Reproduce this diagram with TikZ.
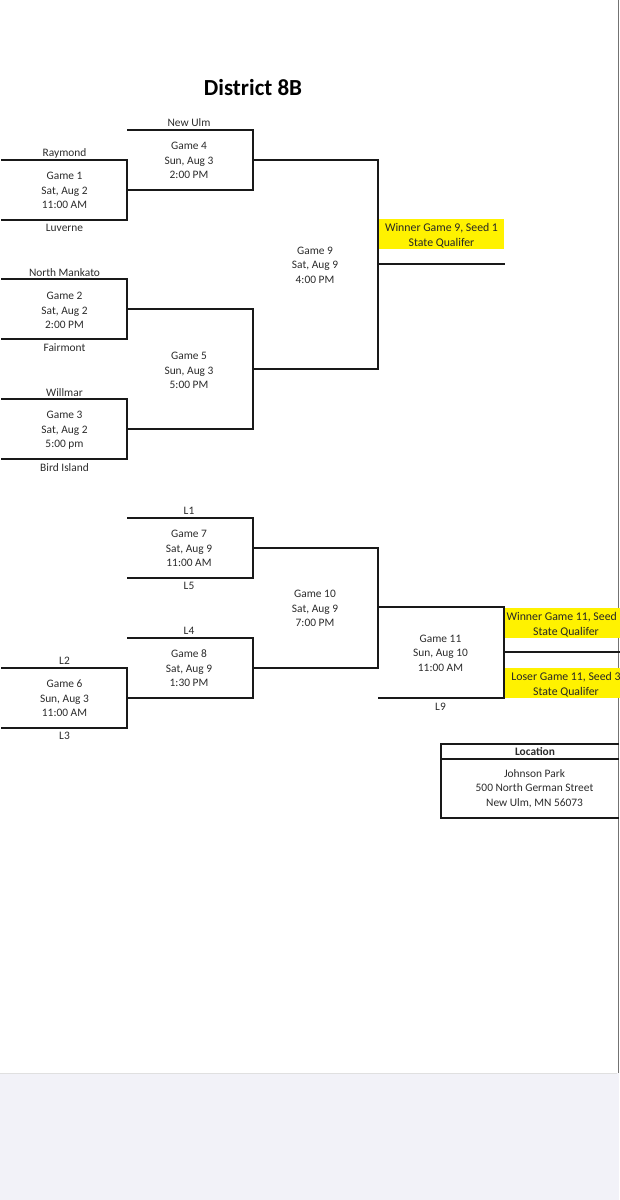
\documentclass[tikz,border=0pt]{standalone}
\usepackage{fontspec}
\setmainfont{Carlito}
\usepackage{tikz}
\usetikzlibrary{positioning}
\definecolor{pagegray}{HTML}{F2F2F8}
\definecolor{inkgray}{HTML}{2B2B2B}
\tikzset{
    bracket/.style={line width=2pt,line cap=rect,black!90},
    team/.style={font=\fontsize{11.4}{12}\selectfont,text=inkgray,inner sep=0pt},
    game/.style={font=\fontsize{11.4}{14.5}\selectfont,text=inkgray,align=center,inner sep=0pt},
    seed/.style={game,font=\fontsize{11.8}{14.8}\selectfont,fill=yellow,text=black!85,minimum height=30pt,text height=27pt}
}
\begin{document}
\begin{tikzpicture}[x=1pt,y=-1pt]
    \useasboundingbox (0,0) rectangle (619,1200);
    \fill[pagegray] (0,1073) rectangle (619,1200);
    \draw[black!12,line width=1pt] (0,1073) -- (617,1073);
    \draw[black!55,line width=1pt] (618.5,0) -- (618.5,1073);

    \node[font=\bfseries\fontsize{23}{26}\selectfont,inner sep=0pt] (title) at (253,87.5) {District 8B};

    % corners of the brackets
    \foreach \name/\x/\y in {
        a1/2/159.5, a2/127/159.5, a3/127/219.5, a4/2/219.5, a5/127/189.5,
        b1/2/279, b2/127/279, b3/127/339, b4/2/339, b5/127/309,
        c1/2/399, c2/127/399, c3/127/459, c4/2/459, c5/127/429,
        d1/128/129.5, d2/252.5/129.5, d3/252.5/189.5, d4/252.5/159.5,
        e1/252.5/309, e2/252.5/429, e3/252.5/369,
        f1/378/159.5, f2/378/369, f3/378/263.5, f4/503.5/263.5,
        g1/2/667.5, g2/127/667.5, g3/127/728, g4/2/728, g5/127/697.5,
        h1/128/517.5, h2/252.5/517.5, h3/252.5/577.5, h4/128/577.5, h5/252.5/547.5,
        i1/128/637.5, i2/252.5/637.5, i3/252.5/697.5, i4/252.5/667.5,
        j1/378/547.5, j2/378/667.5, j3/378/607, j4/503.5/607, j5/503.5/697.5,
        j6/379/697.5, j7/503.5/652, j8/619/652%
    }{
        \coordinate (\name) at (\x,\y);
    }

    \node[seed,minimum width=125pt] (qual9) at (441.5,234) {Winner Game 9, Seed 1\\State Qualifer};
    \node[seed,minimum width=122pt] (qual11a) at (566,622.5) {Winner Game 11, Seed\phantom{ 2}\\State Qualifer};
    \node[seed,minimum width=122pt] (qual11b) at (566,683) {Loser Game 11, Seed 3\\State Qualifer};

    \draw[bracket] (a1) -- (a2) -- (a3) -- (a4);
    \draw[bracket] (b1) -- (b2) -- (b3) -- (b4);
    \draw[bracket] (c1) -- (c2) -- (c3) -- (c4);
    \draw[bracket] (d1) -- (d2) -- (d3) -- (a5);
    \draw[bracket] (b5) -- (e1) -- (e2) -- (c5);
    \draw[bracket] (d4) -- (f1) -- (f2) -- (e3);
    \draw[bracket] (f3) -- (f4);
    \draw[bracket] (g1) -- (g2) -- (g3) -- (g4);
    \draw[bracket] (h1) -- (h2) -- (h3) -- (h4);
    \draw[bracket] (i1) -- (i2) -- (i3) -- (g5);
    \draw[bracket] (h5) -- (j1) -- (j2) -- (i4);
    \draw[bracket] (j3) -- (j4) -- (j5) -- (j6);
    \draw[bracket] (j7) -- (j8);

    \node[team] (raymond) at (64.5,153) {Raymond};
    \node[game] (game1) at (64.5,190.5) {Game 1\\Sat, Aug 2\\11:00 AM};
    \node[team] (luverne) at (64.5,228) {Luverne};
    \node[team] (newulm) at (189,123) {New Ulm};
    \node[game] (game4) at (189,160.5) {Game 4\\Sun, Aug 3\\2:00 PM};
    \node[team] (mankato) at (64.5,272.5) {North Mankato};
    \node[game] (game2) at (64.5,310.5) {Game 2\\Sat, Aug 2\\2:00 PM};
    \node[team] (fairmont) at (64.5,347.5) {Fairmont};
    \node[team] (willmar) at (64.5,392.5) {Willmar};
    \node[game] (game3) at (64.5,430.5) {Game 3\\Sat, Aug 2\\5:00 pm};
    \node[team] (birdisland) at (64.5,467.5) {Bird Island};
    \node[game] (game5) at (189,370.5) {Game 5\\Sun, Aug 3\\5:00 PM};
    \node[game] (game9) at (315,265) {Game 9\\Sat, Aug 9\\4:00 PM};

    \node[team] (l1) at (189,510.5) {L1};
    \node[game] (game7) at (189,548.5) {Game 7\\Sat, Aug 9\\11:00 AM};
    \node[team] (l5) at (189,586) {L5};
    \node[team] (l4) at (189,630.5) {L4};
    \node[game] (game8) at (189,668.5) {Game 8\\Sat, Aug 9\\1:30 PM};
    \node[team] (l2) at (64.5,661) {L2};
    \node[game] (game6) at (64.5,698.5) {Game 6\\Sun, Aug 3\\11:00 AM};
    \node[team] (l3) at (64.5,736) {L3};
    \node[game] (game10) at (315,608.5) {Game 10\\Sat, Aug 9\\7:00 PM};
    \node[game] (game11) at (440.5,653) {Game 11\\Sun, Aug 10\\11:00 AM};
    \node[team] (l9) at (440.5,706.5) {L9};

    % location box
    \draw[bracket,line cap=butt] (619,743.5) -- (440.5,743.5) -- (440.5,817.5) -- (619,817.5);
    \draw[bracket,line cap=butt] (440.5,758.5) -- (619,758.5);
    \node[team,font=\bfseries\fontsize{11.4}{12}\selectfont] (location) at (535,752) {Location};
    \node[game] (park) at (534.5,788.5) {Johnson Park\\500 North German Street\\New Ulm, MN 56073};
\end{tikzpicture}
\end{document}
